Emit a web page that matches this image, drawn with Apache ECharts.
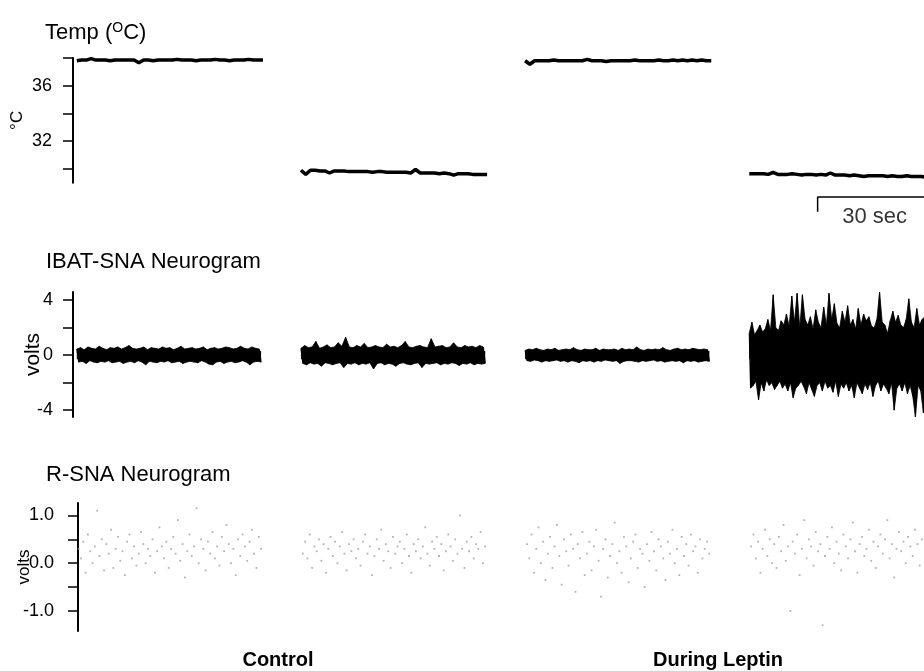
<!DOCTYPE html>
<html><head><meta charset="utf-8">
<script src="https://cdn.jsdelivr.net/npm/echarts@6/dist/echarts.min.js"></script>
<style>html,body{margin:0;padding:0;background:#fff}#c{width:924px;height:671px}</style>
</head><body><div id="c"></div>
<script>
// ---- time layout (seconds) ----
const segStarts = [1, 60, 119, 178];
const segLen = 49;
const xMax = 224;
const scaleBarStart = 196;
const scaleBarSec = 30;

// ---- Temperature (°C), four recordings: Control warm, Control cold, Leptin warm, Leptin cold ----
const tempCtrlWarm = [37.8,37.85,37.85,37.95,37.85,37.85,37.85,37.8,37.85,37.85,37.85,37.85,37.85,37.65,37.85,37.85,37.8,37.85,37.85,37.85,37.85,37.9,37.85,37.85,37.85,37.8,37.85,37.85,37.85,37.9,37.85,37.85,37.8,37.85,37.85,37.85,37.9,37.85,37.85,37.85];
const tempCtrlCold = [29.9,29.6,29.9,29.9,29.85,29.85,29.7,29.85,29.85,29.85,29.8,29.8,29.8,29.8,29.8,29.75,29.8,29.8,29.75,29.75,29.75,29.75,29.75,29.7,29.95,29.7,29.7,29.7,29.7,29.65,29.7,29.65,29.55,29.65,29.65,29.65,29.6,29.6,29.6,29.6];
const tempLepWarm = [37.8,37.55,37.8,37.8,37.8,37.8,37.85,37.8,37.8,37.8,37.8,37.8,37.8,37.9,37.8,37.8,37.8,37.75,37.8,37.8,37.8,37.8,37.8,37.85,37.8,37.8,37.8,37.8,37.85,37.8,37.8,37.85,37.8,37.85,37.8,37.85,37.8,37.85,37.8,37.8];
const tempLepCold = [29.65,29.65,29.65,29.65,29.6,29.75,29.6,29.6,29.6,29.65,29.6,29.55,29.6,29.6,29.55,29.6,29.55,29.7,29.55,29.55,29.55,29.5,29.55,29.5,29.45,29.5,29.5,29.5,29.5,29.45,29.5,29.45,29.45,29.5,29.45,29.45,29.45,29.4,29.45,29.4];
const tempTicks = [30,32,34,36,38];
const tempLabels = [32,36];

// ---- IBAT-SNA neurogram envelope (volts): upper / lower excursions per bin ----
const ibatCtrlWarmHi = [0.45,0.55,0.4,0.6,0.5,0.45,0.65,0.5,0.4,0.55,0.5,0.6,0.45,0.55,0.7,0.5,0.45,0.5,0.6,0.4,0.55,0.5,0.45,0.6,0.5,0.55,0.4,0.5,0.65,0.45,0.5,0.55,0.45,0.5,0.6,0.4,0.5,0.55,0.45,0.5,0.6,0.55,0.45,0.5,0.65,0.5,0.45,0.6,0.5,0.45];
const ibatCtrlWarmLo = [-0.5,-0.45,-0.6,-0.4,-0.5,-0.55,-0.45,-0.5,-0.4,-0.55,-0.5,-0.45,-0.6,-0.5,-0.45,-0.55,-0.4,-0.5,-0.7,-0.45,-0.5,-0.55,-0.45,-0.5,-0.4,-0.55,-0.5,-0.45,-0.6,-0.5,-0.45,-0.5,-0.55,-0.4,-0.5,-0.65,-0.7,-0.5,-0.45,-0.6,-0.5,-0.45,-0.55,-0.5,-0.4,-0.5,-0.7,-0.5,-0.45,-0.5];
const ibatCtrlColdHi = [0.5,0.7,0.55,0.6,1.0,0.5,0.6,0.75,0.55,0.6,0.9,0.65,1.3,0.6,0.55,0.7,0.6,0.85,0.55,0.6,0.7,0.6,0.55,0.8,0.6,0.65,0.55,0.7,1.0,0.6,0.55,0.65,0.7,0.6,0.55,1.2,0.6,0.65,0.7,0.55,0.6,0.9,0.6,0.55,0.7,0.6,0.65,0.55,0.7,0.6];
const ibatCtrlColdLo = [-0.6,-0.7,-0.55,-0.65,-0.6,-0.8,-0.55,-0.6,-0.7,-0.6,-0.55,-0.9,-0.6,-0.65,-0.55,-0.7,-0.6,-0.65,-0.55,-1.0,-0.6,-0.55,-0.7,-0.6,-0.65,-0.8,-0.6,-0.55,-0.65,-0.7,-0.6,-0.55,-0.9,-0.6,-0.65,-0.6,-0.55,-0.7,-0.6,-0.65,-0.55,-0.6,-0.75,-0.6,-0.65,-0.55,-0.7,-0.6,-0.65,-0.6];
const ibatLepWarmHi = [0.35,0.45,0.4,0.5,0.4,0.35,0.45,0.4,0.5,0.35,0.4,0.45,0.4,0.55,0.4,0.35,0.45,0.4,0.4,0.5,0.35,0.45,0.4,0.4,0.45,0.35,0.5,0.4,0.45,0.4,0.6,0.4,0.35,0.45,0.4,0.45,0.4,0.55,0.4,0.35,0.45,0.5,0.4,0.45,0.4,0.5,0.45,0.4,0.45,0.4];
const ibatLepWarmLo = [-0.4,-0.45,-0.35,-0.4,-0.5,-0.4,-0.45,-0.4,-0.35,-0.45,-0.4,-0.5,-0.4,-0.45,-0.55,-0.4,-0.45,-0.4,-0.5,-0.4,-0.45,-0.35,-0.4,-0.45,-0.4,-0.6,-0.45,-0.4,-0.4,-0.45,-0.5,-0.4,-0.45,-0.4,-0.35,-0.45,-0.4,-0.5,-0.45,-0.4,-0.45,-0.4,-0.55,-0.4,-0.45,-0.4,-0.5,-0.45,-0.4,-0.45];
const ibatLepColdHi = [1.6,2.4,1.5,1.8,2.2,1.7,1.9,2.6,1.8,4.4,2.0,1.8,2.5,2.2,3.0,2.1,4.3,2.4,4.5,2.0,4.4,2.6,2.2,2.8,1.9,3.3,2.4,2.0,3.5,2.2,4.5,2.6,3.75,2.3,2.0,3.2,2.4,3.6,2.2,2.6,1.9,3.4,2.2,3.0,2.5,2.8,2.1,2.0,2.6,4.6,2.4,2.2,1.6,2.5,3.2,2.4,2.9,2.2,2.0,2.6,4.1,2.4,2.0,3.4,2.2,2.6,2.8,2.2,4.3,2.5];
const ibatLepColdLo = [-2.4,-2.2,-1.9,-3.25,-2.0,-2.6,-1.8,-2.2,-2.0,-2.5,-2.2,-1.9,-2.4,-2.1,-2.6,-2.0,-3.1,-2.4,-2.2,-1.9,-2.3,-2.8,-2.0,-2.5,-3.0,-2.2,-2.0,-2.6,-1.9,-2.4,-2.2,-2.7,-1.9,-3.0,-2.1,-2.4,-2.0,-2.6,-2.2,-3.1,-2.0,-2.4,-2.8,-2.1,-2.5,-2.0,-3.0,-2.2,-1.9,-2.6,-2.1,-2.4,-2.8,-2.0,-4.0,-2.4,-2.1,-2.6,-2.0,-2.8,-2.2,-3.0,-4.5,-2.2,-2.6,-4.2,-2.0,-3.5,-4.4,-2.4];
const ibatTicks = [-4,-2,0,2,4];
const ibatLabels = [-4,0,4];

// ---- R-SNA neurogram samples (volts) ----
const rsnaCtrlWarm = [0.3,0.1,0.45,-0.2,0.6,0.25,0.0,0.35,1.1,0.15,0.5,-0.15,0.4,0.2,0.7,-0.1,0.3,0.55,0.05,0.25,-0.25,0.45,0.6,0.1,0.35,-0.05,0.2,0.65,0.4,0.0,0.3,0.15,0.5,-0.2,0.25,0.75,0.35,0.1,0.45,-0.1,0.3,0.55,0.2,0.9,0.05,0.4,-0.3,0.25,0.6,0.15,0.35,1.15,0.0,0.5,0.3,-0.15,0.45,0.2,0.65,0.1,0.35,-0.05,0.55,0.25,0.8,0.4,0.0,0.3,-0.25,0.5,0.15,0.6,0.35,0.05,0.45,0.7,0.2,-0.1,0.55,0.3];
const rsnaCtrlCold = [0.2,0.45,0.1,0.6,-0.1,0.35,0.25,0.5,0.05,0.4,-0.2,0.3,0.55,0.15,0.45,0.0,0.35,0.65,0.2,-0.15,0.4,0.25,0.5,0.1,0.3,-0.05,0.45,0.6,0.2,0.35,-0.25,0.15,0.5,0.3,0.7,0.05,0.4,0.25,-0.1,0.55,0.2,0.35,0.45,0.0,0.3,0.6,0.15,-0.2,0.4,0.25,0.5,0.1,0.35,0.75,0.2,-0.05,0.45,0.3,0.55,0.15,0.4,-0.15,0.25,0.6,0.35,0.05,0.5,0.2,1.0,0.3,-0.1,0.45,0.25,0.55,0.1,0.4,0.3,0.65,0.0,0.35];
const rsnaLepWarm = [0.4,0.1,0.6,-0.2,0.3,0.75,0.0,0.45,-0.35,0.2,0.55,-0.1,0.35,0.8,0.15,-0.45,0.5,0.25,-0.05,0.6,0.3,-0.6,0.4,0.1,0.65,-0.25,0.2,0.45,-0.15,0.35,0.7,0.05,-0.7,0.3,0.5,-0.3,0.15,0.4,0.85,0.0,0.25,-0.2,0.55,0.35,-0.4,0.1,0.45,0.6,-0.1,0.3,0.2,-0.5,0.4,0.05,0.65,0.25,-0.15,0.5,0.35,0.1,-0.35,0.45,0.2,0.7,0.0,0.3,-0.25,0.55,0.15,0.4,-0.05,0.6,0.25,0.35,-0.2,0.5,0.1,0.3,0.45,0.2];
const rsnaLepCold = [0.35,0.6,0.1,0.45,-0.2,0.3,0.7,0.15,0.5,0.0,0.4,-0.1,0.55,0.25,0.8,0.05,0.35,-1.0,0.45,0.2,0.6,-0.25,0.3,0.9,0.1,0.5,0.35,-0.05,0.65,0.25,0.4,-1.3,0.15,0.55,0.3,0.75,0.0,0.45,0.2,-0.15,0.6,0.35,0.1,0.5,0.85,0.25,-0.2,0.4,0.55,0.15,0.3,0.7,0.05,0.45,-0.1,0.35,0.6,0.2,0.5,0.9,0.1,0.4,-0.3,0.3,0.65,0.25,0.45,0.0,0.55,0.35,0.15,0.7,0.4,-0.05,0.5,0.25,0.6,0.3,0.45,0.2];
const rsnaTicks = [-1,-0.5,0,0.5,1];
const rsnaLabels = [-1,0,1];

const groupLabels = ['Control', 'During Leptin'];
const panelTitles = ['IBAT-SNA Neurogram', 'R-SNA Neurogram'];

// ---- builders ----
const FONT = '"Liberation Sans", Arial, Helvetica, sans-serif';
function trace(arr, k) {
  const s = segStarts[k], step = segLen / (arr.length - 1);
  return arr.map((v, i) => [s + i * step, v]);
}
function envelope(hi, lo, k) {
  const s = segStarts[k], n = hi.length, w = segLen / n, out = [];
  for (let i = 0; i < n; i++) { out.push([s + i * w, hi[i]]); out.push([s + i * w + w / 2, lo[i]]); }
  return out;
}
function edge(arr, k, half) {
  const s = segStarts[k], n = arr.length, w = segLen / n;
  return arr.map((v, i) => [s + i * w + (half ? w / 2 : 0), v]);
}
function dots(arr, k) {
  const s = segStarts[k], step = (segLen - 1) / (arr.length - 1);
  return arr.map((v, i) => [s + 0.5 + i * step, v]);
}
function yAx(gi, min, max, ticks, labels, name, gap, nameSize, fmt, margin) {
  return {
    gridIndex: gi, type: 'value', min: min, max: max,
    name: name, nameLocation: 'middle', nameGap: gap, nameMoveOverlap: false,
    nameTextStyle: { fontSize: nameSize, color: '#000', fontFamily: FONT },
    axisLine: { show: true, lineStyle: { color: '#000', width: 2 } },
    axisTick: { show: true, inside: false, length: 10, customValues: ticks, lineStyle: { color: '#000', width: 1.5 } },
    axisLabel: { show: true, customValues: labels, formatter: fmt, fontSize: 18, color: '#000', fontFamily: FONT, margin: margin },
    splitLine: { show: false }
  };
}
const xAx = (gi, mn) => ({ gridIndex: gi, type: 'value', min: mn, max: xMax, show: false });

const series = [];
[tempCtrlWarm, tempCtrlCold, tempLepWarm, tempLepCold].forEach((a, k) => series.push({
  type: 'line', xAxisIndex: 0, yAxisIndex: 0, data: trace(a, k), symbol: 'none', silent: true,
  lineStyle: { color: '#000', width: 3.5 }
}));
[[ibatCtrlWarmHi, ibatCtrlWarmLo], [ibatCtrlColdHi, ibatCtrlColdLo], [ibatLepWarmHi, ibatLepWarmLo], [ibatLepColdHi, ibatLepColdLo]].forEach((p, k) => {
  // filled band: upper and lower excursions, each filled past the baseline so the halves overlap
  [[p[0], false, -0.3], [p[1], true, 0.3]].forEach(e => series.push({
    type: 'line', xAxisIndex: 1, yAxisIndex: 1, data: edge(e[0], k, e[1]), symbol: 'none', silent: true,
    lineStyle: { color: '#000', width: 0.8 }, areaStyle: { color: '#000', opacity: 1, origin: e[2] }
  }));
  // spiky trace on top
  series.push({
    type: 'line', xAxisIndex: 1, yAxisIndex: 1, data: envelope(p[0], p[1], k), symbol: 'none', silent: true,
    lineStyle: { color: '#000', width: 1.1 }
  });
});
[rsnaCtrlWarm, rsnaCtrlCold, rsnaLepWarm, rsnaLepCold].forEach((a, k) => series.push({
  type: 'scatter', xAxisIndex: 2, yAxisIndex: 2, data: dots(a, k), symbol: 'rect', symbolSize: 1.8, silent: true,
  itemStyle: { color: '#a0a0a0' }
}));
// scale bar (30 sec) in the temperature panel
series.push({
  type: 'line', xAxisIndex: 0, yAxisIndex: 0, clip: false, symbol: 'none', silent: true,
  data: [[scaleBarStart, 26.9], [scaleBarStart, 27.97], [scaleBarStart + scaleBarSec, 27.97]],
  lineStyle: { color: '#000', width: 1.5 }
});
series.push({
  type: 'scatter', xAxisIndex: 0, yAxisIndex: 0, clip: false, silent: true, symbolSize: 0,
  data: [[scaleBarStart + scaleBarSec / 2, 26.55]],
  label: { show: true, position: 'inside', formatter: scaleBarSec + ' sec', fontSize: 22, color: '#000', fontFamily: FONT }
});

const gridBase = { outerBoundsMode: 'none', containLabel: false, right: 0 };
const option = {
  backgroundColor: '#fff',
  animation: false,
  title: [
    { text: 'Temp ({sup|O}C)', left: 40, top: 16, textStyle: { fontSize: 22, fontWeight: 'normal', color: '#000', fontFamily: FONT,
      rich: { sup: { fontSize: 14, fontFamily: FONT, color: '#000', verticalAlign: 'top', padding: [0, 0, 10, 0] } } } },
    { text: panelTitles[0], left: 41, top: 246, textStyle: { fontSize: 22, fontWeight: 'normal', color: '#000', fontFamily: FONT } },
    { text: panelTitles[1], left: 41, top: 459, textStyle: { fontSize: 22, fontWeight: 'normal', color: '#000', fontFamily: FONT } }
  ],
  grid: [
    Object.assign({ left: 73, top: 58, height: 124.7 }, gridBase),
    Object.assign({ left: 73, top: 292, height: 125 }, gridBase),
    Object.assign({ left: 78, top: 503, height: 128 }, gridBase)
  ],
  xAxis: [xAx(0, 0), xAx(1, 0), xAx(2, 5 * xMax / 851)],
  yAxis: [
    yAx(0, 29, 38, tempTicks, tempLabels, '°C', 47, 17, v => String(v), 21),
    yAx(1, -4.5, 4.6, ibatTicks, ibatLabels, 'volts', 29, 21, v => String(v), 20),
    yAx(2, -1.42, 1.26, rsnaTicks, rsnaLabels, 'volts', 45, 17, v => v.toFixed(1), 24)
  ],
  series: series,
  graphic: [
    { type: 'text', x: 278, y: 660, style: { text: groupLabels[0], font: 'bold 20px ' + FONT, fill: '#000', textAlign: 'center', textVerticalAlign: 'middle', verticalAlign: 'middle' } },
    { type: 'text', x: 718, y: 660, style: { text: groupLabels[1], font: 'bold 20px ' + FONT, fill: '#000', textAlign: 'center', textVerticalAlign: 'middle', verticalAlign: 'middle' } }
  ]
};
const chart = echarts.init(document.getElementById('c'), null, { renderer: 'canvas' });
chart.setOption(option);
</script></body></html>
